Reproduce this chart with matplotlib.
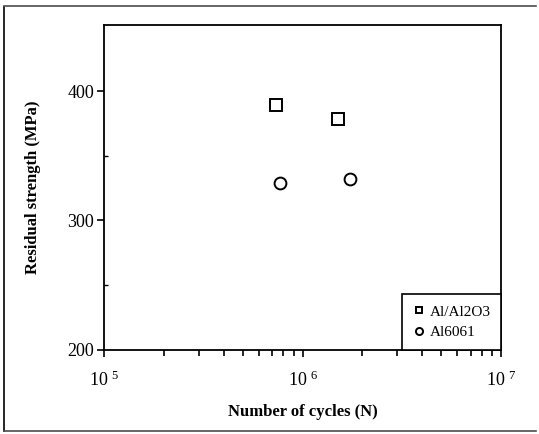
import math
import matplotlib
matplotlib.use('Agg')
import matplotlib.pyplot as plt
from matplotlib.lines import Line2D
from matplotlib.ticker import FixedLocator, LogLocator, FuncFormatter

plt.rcParams['font.family'] = 'Liberation Serif'
plt.rcParams['mathtext.fontset'] = 'custom'
plt.rcParams['mathtext.rm'] = 'Liberation Serif'

# data
cycles_comp = [7.3e5, 1.5e6]
strength_comp = [389, 378.5]
cycles_alloy = [7.65e5, 1.73e6]
strength_alloy = [329, 332]
labels = ['Al/Al2O3', 'Al6061']
yticks = [200, 300, 400]

fig = plt.figure(figsize=(5.39, 4.34), dpi=100)
ax = fig.add_axes([0.193, 0.194, 0.737, 0.748])

ax.plot(cycles_comp, strength_comp, 's', ms=8, mfc='none', mec='black', mew=1.4,
        label=labels[0])
ax.plot(cycles_alloy, strength_alloy, 'o', ms=8.5, mfc='none', mec='black', mew=1.4,
        label=labels[1])

ax.set_xscale('log')
ax.set_xlim(1e5, 1e7)
ax.set_ylim(200, 451)

ax.xaxis.set_major_locator(LogLocator(base=10))
ax.xaxis.set_minor_locator(LogLocator(base=10, subs=range(2, 10)))
ax.xaxis.set_major_formatter(FuncFormatter(lambda v, p: r'$\mathregular{10^{\ %d}}$' % round(math.log10(v))))
ax.xaxis.set_minor_formatter(FuncFormatter(lambda v, p: ''))

ax.yaxis.set_major_locator(FixedLocator(yticks))
ax.yaxis.set_minor_locator(FixedLocator([250, 350]))

ax.tick_params(axis='both', which='major', direction='out', length=5, width=1.2,
               labelsize=13)
ax.tick_params(axis='x', which='major', pad=10)
ax.tick_params(axis='y', which='major', pad=2)
ax.tick_params(axis='x', which='minor', direction='out', length=4, width=1.2)
ax.tick_params(axis='y', which='minor', direction='in', length=3, width=1.0)

for s in ax.spines.values():
    s.set_linewidth(1.3)

ax.set_xlabel('Number of cycles (N)', fontsize=12, fontweight='bold', labelpad=10)
ax.set_ylabel('Residual strength (MPa)', fontsize=12, fontweight='bold', labelpad=19)

leg = ax.legend(loc='lower right', borderaxespad=0, markerscale=0.6, fontsize=11,
                handletextpad=0.3, handlelength=0.8, fancybox=False, framealpha=1,
                borderpad=0.7, labelspacing=0.45)
leg.get_frame().set_edgecolor('black')
leg.get_frame().set_linewidth(1.2)

# scanned page frame
fig.add_artist(Line2D([0.008, 0.008], [0.007, 0.985], color='black', lw=1.2,
                      transform=fig.transFigure))
fig.add_artist(Line2D([0.008, 0.995], [0.987, 0.987], color='0.3', lw=1.2,
                      transform=fig.transFigure))
fig.add_artist(Line2D([0.008, 0.995], [0.007, 0.007], color='0.3', lw=1.2,
                      transform=fig.transFigure))

fig.savefig('out.png', dpi=100)
